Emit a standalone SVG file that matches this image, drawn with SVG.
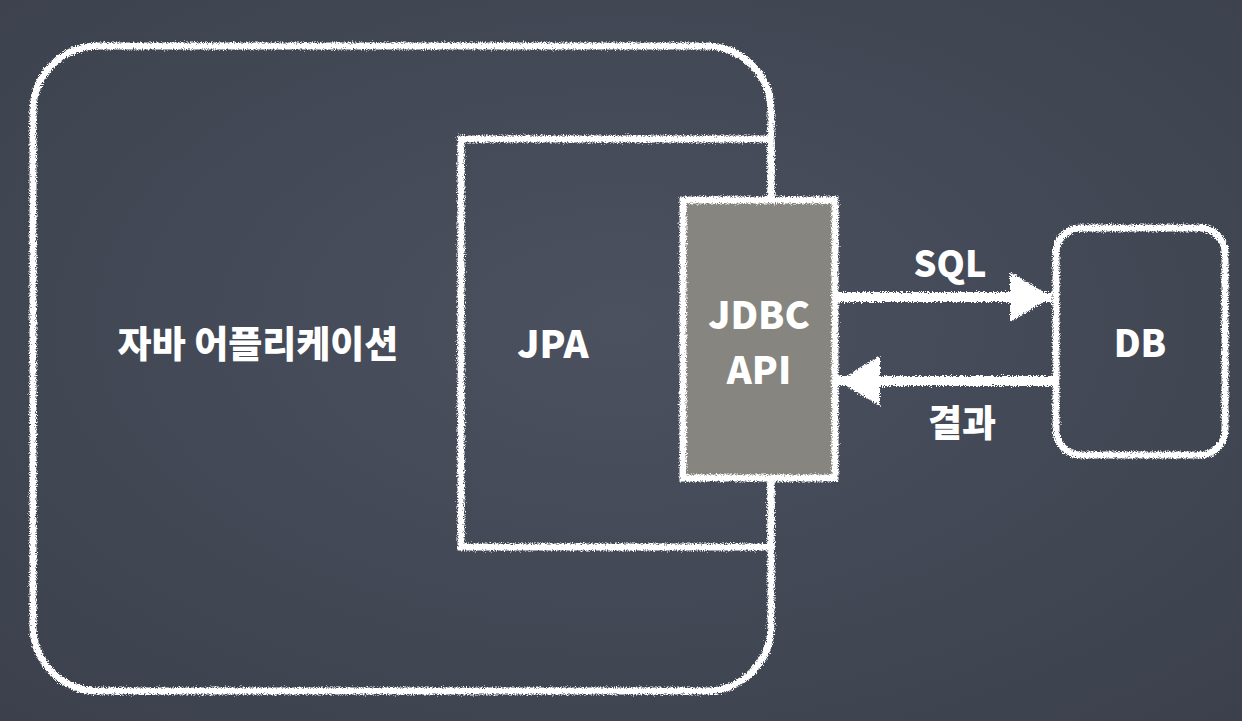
<svg xmlns="http://www.w3.org/2000/svg" width="1242" height="721" viewBox="0 0 1242 721">
<defs>
<radialGradient id="bg" cx="50%" cy="45%" r="75%">
<stop offset="0" stop-color="#4b515f"/>
<stop offset="1" stop-color="#3b404c"/>
</radialGradient>
<filter id="chalk" filterUnits="userSpaceOnUse" x="0" y="0" width="1242" height="721">
<feTurbulence type="fractalNoise" baseFrequency="0.9" numOctaves="2" seed="3" result="n"/>
<feDisplacementMap in="SourceGraphic" in2="n" scale="6" xChannelSelector="R" yChannelSelector="G"/>
</filter>
<marker id="head" markerUnits="userSpaceOnUse" markerWidth="46" markerHeight="54" refX="44" refY="27" orient="auto">
<path d="M2,2 L44,27 L2,52 Z" fill="#ffffff"/>
</marker>
<style>
.ln{fill:none;stroke:#ffffff;stroke-width:7}
.lbl{font-family:"Noto Sans CJK KR","Noto Sans",sans-serif;font-weight:900;fill:#ffffff;text-anchor:middle}
.arr{fill:none;stroke:#ffffff;stroke-width:10}
</style>
</defs>
<rect width="1242" height="721" fill="url(#bg)"/>
<g id="app" filter="url(#chalk)">
<rect class="ln" x="33" y="46" width="738" height="645" rx="65" ry="65"/>
</g>
<g id="jpa" filter="url(#chalk)">
<rect class="ln" x="461" y="139" width="310" height="408"/>
</g>
<g id="jdbc">
<rect x="683" y="200" width="152" height="278" fill="#868580" stroke="#ffffff" stroke-width="7" filter="url(#chalk)"/>
</g>
<g id="db" filter="url(#chalk)">
<rect class="ln" x="1056" y="228" width="169" height="227" rx="25" ry="25"/>
</g>
<g id="connectors" filter="url(#chalk)">
<path class="arr" d="M838,297 L1052,297" marker-end="url(#head)"/>
<path class="arr" d="M1056,381 L838,381" marker-end="url(#head)"/>
</g>
<g id="labels">
<text class="lbl" x="258" y="358" font-size="37">자바 어플리케이션</text>
<text class="lbl" x="553" y="358" font-size="38">JPA</text>
<text class="lbl" x="759" y="329" font-size="38">JDBC</text>
<text class="lbl" x="759" y="384" font-size="38">API</text>
<text class="lbl" x="950" y="277" font-size="36">SQL</text>
<text class="lbl" x="962" y="437" font-size="37">결과</text>
<text class="lbl" x="1140" y="357" font-size="37">DB</text>
</g>
</svg>
